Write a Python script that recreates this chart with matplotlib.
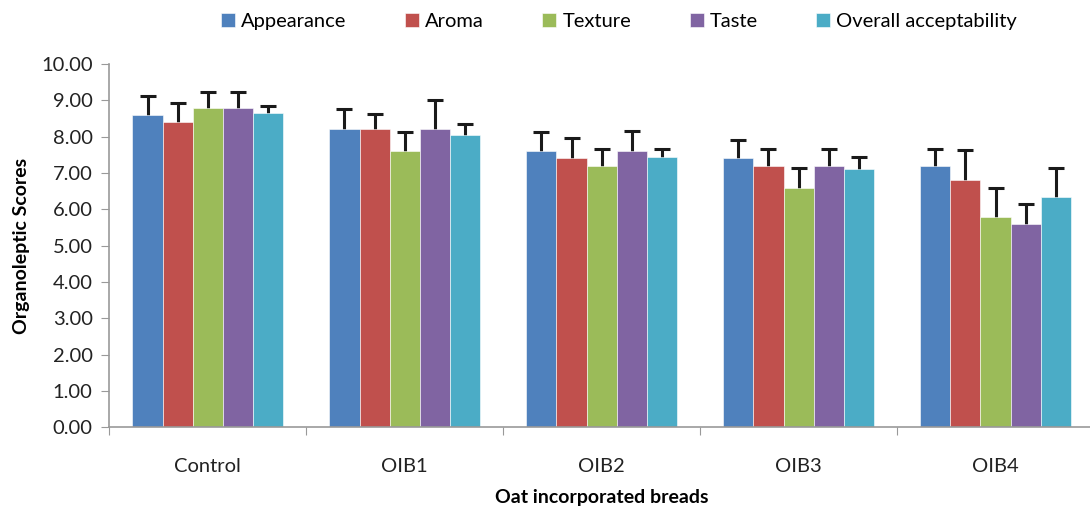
import matplotlib.pyplot as plt
import numpy as np

plt.rcParams["font.family"] = ["Lato", "DejaVu Sans"]

breads = ["Control", "OIB1", "OIB2", "OIB3", "OIB4"]
attributes = ["Appearance", "Aroma", "Texture", "Taste", "Overall acceptability"]
colors = ["#4F81BD", "#C0504D", "#9BBB59", "#8064A2", "#4BACC6"]

appearance = [8.60, 8.20, 7.60, 7.40, 7.20]
aroma = [8.40, 8.20, 7.40, 7.20, 6.80]
texture = [8.80, 7.60, 7.20, 6.60, 5.80]
taste = [8.80, 8.20, 7.60, 7.20, 5.60]
overall = [8.65, 8.05, 7.45, 7.10, 6.35]

appearance_sd = [0.52, 0.55, 0.52, 0.50, 0.45]
aroma_sd = [0.52, 0.43, 0.55, 0.45, 0.84]
texture_sd = [0.43, 0.54, 0.45, 0.55, 0.80]
taste_sd = [0.43, 0.82, 0.56, 0.45, 0.55]
overall_sd = [0.20, 0.31, 0.20, 0.35, 0.78]

series = [appearance, aroma, texture, taste, overall]
errors = [appearance_sd, aroma_sd, texture_sd, taste_sd, overall_sd]

fig = plt.figure(figsize=(10.9, 5.14), dpi=100)
ax = fig.add_axes([0.1003, 0.1687, 0.9034, 0.7068])

x = np.arange(len(breads))
bar_w = 0.153
for i, (vals, sd) in enumerate(zip(series, errors)):
    pos = x + (i - 2) * bar_w
    ax.bar(pos, vals, width=bar_w, color=colors[i], label=attributes[i],
           edgecolor="white", linewidth=0.4, zorder=2)
    # lower half of the whisker sits behind the bar, so only the plus side shows
    ax.errorbar(pos, vals, yerr=sd, fmt="none",
                ecolor="#1a1a1a", elinewidth=2.2, capsize=6, capthick=2.2, zorder=1)

ax.set_xlim(-0.5, len(breads) - 0.5)
ax.set_ylim(0, 10)
ax.set_yticks(np.arange(0, 10.01, 1))
ax.set_yticklabels([f"{v:.2f}" for v in np.arange(0, 10.01, 1)], fontsize=14.5, color="#222222")

ax.set_xticks(np.arange(-0.5, len(breads), 1))
ax.set_xticklabels([])
ax.set_xticks(x, minor=True)
ax.set_xticklabels(breads, minor=True, fontsize=14.5, color="#222222")
ax.tick_params(axis="x", which="minor", length=0, pad=22)
ax.tick_params(axis="x", which="major", length=6, color="#999999", direction="out")
ax.tick_params(axis="y", length=6, color="#999999", direction="out", pad=6)

for side in ["top", "right"]:
    ax.spines[side].set_visible(False)
for side in ["left", "bottom"]:
    ax.spines[side].set_color("#999999")
    ax.spines[side].set_linewidth(1.2)

ax.set_ylabel("Organoleptic Scores", fontsize=14, fontweight="bold", labelpad=8)
ax.set_xlabel("Oat incorporated breads", fontsize=14, fontweight="bold", labelpad=10)

fig.legend(loc="upper center", bbox_to_anchor=(0.568, 1.01), ncol=5, frameon=False,
           fontsize=14.5, handlelength=0.7, handleheight=0.7, handletextpad=0.3,
           columnspacing=2.9)

fig.savefig("out.png", dpi=100)
